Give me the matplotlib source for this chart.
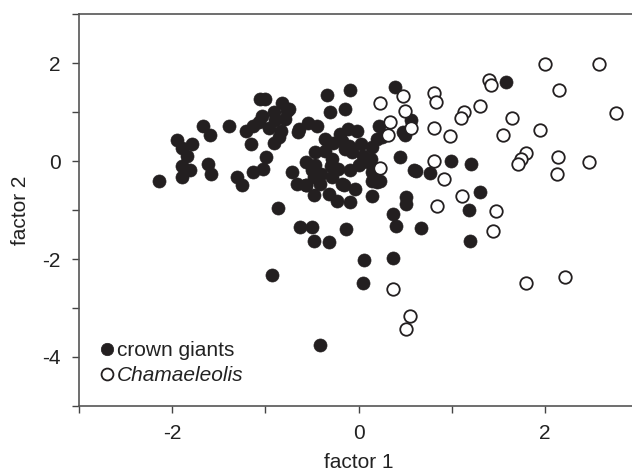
import matplotlib
matplotlib.use("Agg")
import matplotlib.pyplot as plt
from matplotlib.ticker import FixedLocator, FuncFormatter

plt.rcParams['font.family'] = ['Liberation Sans', 'DejaVu Sans']
plt.rcParams['axes.unicode_minus'] = False

# crown giants (filled)
giants_x = [-2.14, -1.95, -1.89, -1.79, -1.84, -1.90, -1.81, -1.90, -1.67, -1.59,
            -1.62, -1.58, -1.39, -1.30, -1.25, -1.21, -1.15, -1.13, -1.07, -1.06,
            -1.00, -1.04, -0.99, -1.13, -1.03, -0.91, -0.90, -0.96, -0.82, -0.77,
            -0.79, -0.91, -0.85, -0.83, -0.72, -0.66, -0.57, -0.65, -0.64, -0.54,
            -0.45, -0.34, -0.31, -0.15, -0.09, 0.39, 1.58, -0.11, -0.02, -0.36,
            -0.18, -0.28, 0.22, 0.20, 0.14, 0.48, 0.50, 0.56, -0.47, -0.36,
            -0.15, -0.07, -0.57, -0.50, -0.29, -0.47, 0.00, 0.13, 0.05, 0.44,
            0.59, -0.22, -0.09, -0.40, -0.41, -0.18, -0.04, 0.14, 0.23, 0.14,
            -0.48, -0.32, -0.23, -0.09, 0.14, 0.51, 0.51, -0.48, -0.29, -0.87,
            -0.63, -0.50, -0.48, -0.32, -0.14, -0.93, -0.41, 0.06, 0.37, 0.05,
            0.37, 0.40, 0.67, 1.18, 1.19, 1.30, 0.99, 1.21, 0.61, 0.77,
            0.20, -0.16, -0.56, -0.75, 0.25, -0.20, 0.10, -0.30, -0.10, 0.02]
giants_y = [-0.40, 0.44, 0.27, 0.34, 0.11, -0.11, -0.19, -0.32, 0.72, 0.54,
            -0.07, -0.26, 0.72, -0.32, -0.48, 0.61, 0.35, 0.72, 0.79, 1.27,
            1.27, 0.93, 0.08, -0.23, -0.16, 1.00, 0.83, 0.68, 1.18, 1.03,
            0.86, 0.37, 0.49, 0.62, -0.23, -0.47, -0.49, 0.60, 0.66, 0.78,
            0.71, 1.34, 1.01, 1.07, 1.45, 1.52, 1.62, 0.66, 0.62, 0.45,
            0.42, 0.36, 0.71, 0.45, 0.28, 0.59, 0.54, 0.83, 0.18, 0.21,
            0.25, 0.18, -0.02, -0.19, 0.04, -0.09, -0.08, 0.04, 0.11, 0.08,
            -0.19, -0.16, -0.19, -0.26, -0.47, -0.47, -0.57, -0.23, -0.40, -0.40,
            -0.70, -0.67, -0.81, -0.84, -0.72, -0.74, -0.88, -0.33, -0.33, -0.96,
            -1.34, -1.35, -1.63, -1.66, -1.39, -2.32, -3.76, -2.03, -1.98, -2.49,
            -1.08, -1.33, -1.37, -0.99, -1.64, -0.64, 0.01, -0.07, -0.21, -0.24,
            -0.43, -0.48, -0.48, 1.07, 0.50, 0.55, -0.02, -0.10, 0.30, 0.35]

# Chamaeleolis (open)
chama_x = [2.00, 2.58, 1.40, 1.42, 2.15, 0.81, 0.83, 0.23, 0.48, 0.50,
           1.13, 1.10, 1.30, 2.76, 1.65, 0.34, 0.32, 0.56, 0.81, 0.98,
           1.55, 1.94, 1.79, 1.74, 1.71, 2.14, 2.13, 2.47, 0.81, 0.23,
           0.92, 1.11, 0.84, 1.47, 1.44, 0.37, 1.80, 2.21, 0.55, 0.51]
chama_y = [1.98, 1.98, 1.66, 1.55, 1.45, 1.40, 1.21, 1.19, 1.32, 1.02,
           1.01, 0.88, 1.13, 0.99, 0.87, 0.80, 0.54, 0.67, 0.68, 0.51,
           0.53, 0.63, 0.17, 0.05, -0.07, 0.08, -0.26, -0.02, 0.00, -0.15,
           -0.36, -0.72, -0.91, -1.01, -1.42, -2.61, -2.49, -2.36, -3.16, -3.43]

fig = plt.figure(figsize=(6.32, 4.72), dpi=100)
ax = fig.add_axes([0.125, 0.140, 0.885, 0.830])

ink = '#231f20'
ax.plot(giants_x, giants_y, 'o', ms=9.4, mfc=ink, mec=ink, mew=0.5,
        ls='none', label='crown giants')
ax.plot(chama_x, chama_y, 'o', ms=9.0, mfc='white', mec=ink, mew=1.3,
        ls='none', label='Chamaeleolis')

ax.set_xlim(-3, 3)
ax.set_ylim(-5, 3)

# ticks at every integer, labels on even ones only
ax.xaxis.set_major_locator(FixedLocator(range(-3, 4)))
ax.yaxis.set_major_locator(FixedLocator(range(-5, 4)))
even = FuncFormatter(lambda v, p: '%d' % v if int(round(v)) % 2 == 0 else '')
ax.xaxis.set_major_formatter(even)
ax.yaxis.set_major_formatter(even)
ax.tick_params(direction='out', length=5, width=1.0, color='#444444',
               labelsize=15, pad=8, labelcolor='#222222')

for side in ['left', 'bottom', 'top']:
    ax.spines[side].set_color('#555555')
    ax.spines[side].set_linewidth(1.2)
ax.spines['right'].set_visible(False)

ax.set_xlabel('factor 1', fontsize=15, color='#222222', labelpad=7)
ax.set_ylabel('factor 2', fontsize=15, color='#222222', labelpad=9)

leg = ax.legend(loc='lower left', bbox_to_anchor=(0.012, 0.015), frameon=False,
                fontsize=15, handlelength=0.6, handletextpad=0.2,
                labelspacing=0.32, borderpad=0.2, markerscale=0.95)
leg.get_texts()[1].set_fontstyle('italic')
for t in leg.get_texts():
    t.set_color('#222222')

fig.savefig('out.png', dpi=100)
